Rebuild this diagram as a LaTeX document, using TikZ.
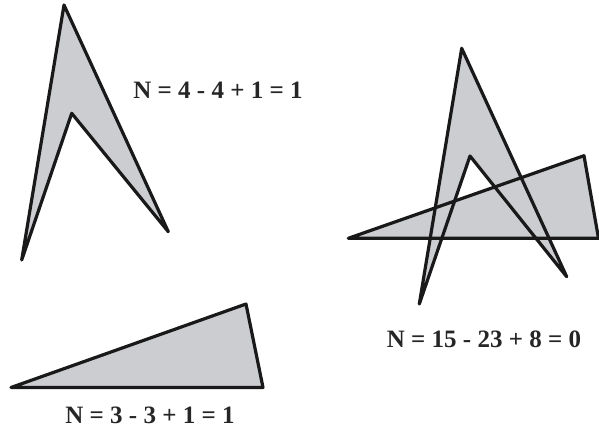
\documentclass[tikz,border=0pt]{standalone}
\usepackage{fontspec}
\setmainfont{Liberation Serif}
\begin{document}
\begin{tikzpicture}[x=1pt,y=-1pt,
  shapefill/.style={fill=shadegrey},
  shapeline/.style={draw=black!90,line width=3.2pt,line join=round},
  eqlabel/.style={font=\fontsize{25}{28}\selectfont\bfseries,inner sep=0pt,text=black!85}]
\definecolor{shadegrey}{RGB}{203,205,208}
\useasboundingbox (0,0) rectangle (599,432);
\begin{scope}
\clip (0,0) rectangle (599,432);
% top-left arrow
\path[shapefill] (64,5) -- (168.3,231.7) -- (71.7,113.3) -- (21.7,260) -- cycle;
\path[shapeline] (64,5) -- (168.3,231.7) -- (71.7,113.3) -- (21.7,260) -- cycle;
% bottom-left triangle
\path[shapefill] (11,387.5) -- (246,304) -- (263,387.5) -- cycle;
\path[shapeline] (11,387.5) -- (246,304) -- (263,387.5) -- cycle;
% right: arrow and triangle
\path[shapefill] (461.7,48.3) -- (566.7,276.7) -- (470,156) -- (419.3,304) -- cycle;
\path[shapefill] (348.3,238.3) -- (584,155.7) -- (598.5,238.3) -- cycle;
\path[shapeline] (461.7,48.3) -- (566.7,276.7) -- (470,156) -- (419.3,304) -- cycle;
\path[shapeline] (348.3,238.3) -- (584,155.7) -- (598.5,238.3) -- cycle;
\end{scope}
\node[eqlabel] (n1) at (218,90.5) {N = 4 - 4 + 1 = 1};
\node[eqlabel] (n2) at (150,415.5) {N = 3 - 3 + 1 = 1};
\node[eqlabel] (n3) at (484,339) {N = 15 - 23 + 8 = 0};
\end{tikzpicture}
\end{document}
